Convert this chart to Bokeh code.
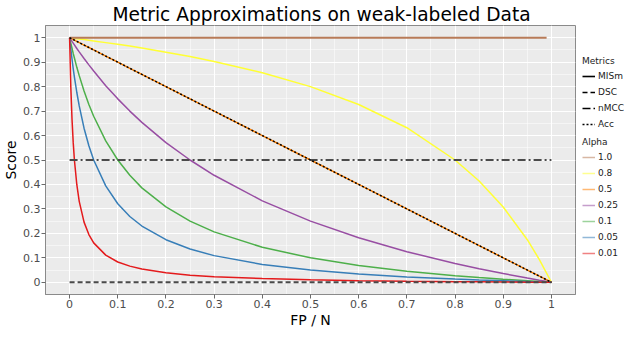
from bokeh.plotting import figure
from bokeh.layouts import row
from bokeh.models import Legend, LegendItem, FixedTicker, Range1d, Title
from bokeh.embed import file_html
from bokeh.resources import INLINE

# ---- data ----
fp_n = [0, 0.0025, 0.005, 0.0075, 0.01, 0.015, 0.02, 0.03, 0.04, 0.05, 0.075, 0.1, 0.125,
        0.15, 0.2, 0.25, 0.3, 0.4, 0.5, 0.6, 0.7, 0.8, 0.85, 0.9, 0.95, 0.975, 1.0]
score_a001 = [1, 0.80, 0.668, 0.572, 0.5, 0.399, 0.331, 0.246, 0.195, 0.161, 0.111, 0.083, 0.066,
              0.054, 0.039, 0.029, 0.023, 0.015, 0.010, 0.0067, 0.0043, 0.0025, 0.0018, 0.0011, 0.0005, 0.0003, 0]
score_a005 = [1, 0.955, 0.913, 0.874, 0.839, 0.776, 0.721, 0.630, 0.558, 0.5, 0.394, 0.321, 0.269,
              0.230, 0.174, 0.136, 0.109, 0.073, 0.05, 0.034, 0.022, 0.013, 0.0092, 0.0058, 0.0028, 0.0013, 0]
score_a01 = [1, 0.978, 0.957, 0.936, 0.917, 0.879, 0.845, 0.782, 0.727, 0.679, 0.578, 0.5, 0.4375,
             0.386, 0.308, 0.25, 0.206, 0.143, 0.1, 0.069, 0.045, 0.027, 0.0192, 0.0122, 0.0058, 0.0028, 0]
score_a025 = [1, 0.9925, 0.985, 0.978, 0.971, 0.956, 0.942, 0.915, 0.889, 0.864, 0.804, 0.75, 0.7,
              0.654, 0.571, 0.5, 0.4375, 0.333, 0.25, 0.182, 0.125, 0.077, 0.0556, 0.0357, 0.0172, 0.0085, 0]
score_a05 = [1, 0.9975, 0.995, 0.9925, 0.99, 0.985, 0.98, 0.97, 0.96, 0.95, 0.925, 0.9, 0.875,
             0.85, 0.8, 0.75, 0.7, 0.6, 0.5, 0.4, 0.3, 0.2, 0.15, 0.1, 0.05, 0.025, 0]
score_a08 = [1, 0.9994, 0.9987, 0.998, 0.9975, 0.996, 0.9949, 0.9923, 0.9897, 0.987, 0.980, 0.973, 0.966,
             0.958, 0.941, 0.923, 0.903, 0.857, 0.8, 0.727, 0.632, 0.5, 0.414, 0.308, 0.174, 0.093, 0]
fp_n_a1 = [0, 0.99]
score_a1 = [1, 1]

acc_x = [0, 1]
acc_y = [1, 0]
dsc_x = [0, 1]
dsc_y = [0, 0]
nmcc_x = [0, 1]
nmcc_y = [0.5, 0.5]

alpha_labels = ["1.0", "0.8", "0.5", "0.25", "0.1", "0.05", "0.01"]
alpha_colors = ["#B87B58", "#FFFF33", "#FF7F00", "#984EA3", "#4DAF4A", "#377EB8", "#E41A1C"]
metric_labels = ["MISm", "DSC", "nMCC", "Acc"]
metric_dashes = ["solid", "5 3", "8 3 2 3", "2 2"]

ticks = [0, 0.1, 0.2, 0.3, 0.4, 0.5, 0.6, 0.7, 0.8, 0.9, 1]
tick_labels = ["0", "0.1", "0.2", "0.3", "0.4", "0.5", "0.6", "0.7", "0.8", "0.9", "1"]
minor_ticks = [-0.05, 0.05, 0.15, 0.25, 0.35, 0.45, 0.55, 0.65, 0.75, 0.85, 0.95, 1.05]

FONT = "DejaVu Sans"
H = 334
W_MAIN = 578
W_LEG = 46

p = figure(width=W_MAIN, height=H, output_backend="svg", toolbar_location=None,
           x_range=Range1d(-0.05, 1.05), y_range=Range1d(-0.05, 1.05),
           min_border_left=45, min_border_right=3, min_border_top=25, min_border_bottom=40)
p.background_fill_color = "#EBEBEB"
p.border_fill_color = "white"
p.outline_line_color = "#8A8A8A"

p.title = Title(text="Metric Approximations on weak-labeled Data", align="left",
                text_font=FONT, text_font_size="18.6px", text_font_style="normal",
                text_color="black", standoff=2, offset=67)

for ax, lab in ((p.xaxis, "FP / N"), (p.yaxis, "Score")):
    ax.ticker = FixedTicker(ticks=ticks, minor_ticks=minor_ticks)
    ax.major_label_overrides = dict(zip(ticks, tick_labels))
    ax.axis_label = lab
    ax.axis_label_text_font = FONT
    ax.axis_label_text_font_size = "14px"
    ax.axis_label_text_font_style = "normal"
    ax.axis_label_text_color = "black"
    ax.axis_label_standoff = 1
    ax.major_label_text_font = FONT
    ax.major_label_text_font_size = "11px"
    ax.major_label_text_color = "#4D4D4D"
    ax.major_label_standoff = 1
    ax.axis_line_color = "#8A8A8A"
    ax.major_tick_line_color = "#6A6A6A"
    ax.major_tick_in = 0
    ax.major_tick_out = 4
    ax.minor_tick_line_color = None

p.grid.grid_line_color = "white"
p.grid.grid_line_width = 1
p.grid.minor_grid_line_color = "white"
p.grid.minor_grid_line_width = 0.5

series = [score_a08, score_a05, score_a025, score_a01, score_a005, score_a001]
series_colors = alpha_colors[1:]
for ys, c in zip(series, series_colors):
    p.line(fp_n, ys, line_color=c, line_width=1.5)
p.line(fp_n_a1, score_a1, line_color=alpha_colors[0], line_width=2.2)

dark = "#4A4A4A"
p.line(dsc_x, dsc_y, line_color=dark, line_width=1.8, line_dash=metric_dashes[1])
p.line(nmcc_x, nmcc_y, line_color=dark, line_width=1.8, line_dash=metric_dashes[2])
p.line(acc_x, acc_y, line_color="black", line_width=1.5, line_dash=metric_dashes[3])

# ---- legend panel (separate figure to the right) ----
lp = figure(width=W_LEG, height=H, output_backend="svg", toolbar_location=None,
            x_range=Range1d(0, 1), y_range=Range1d(0, 1),
            x_axis_location=None, y_axis_location=None,
            min_border_left=0, min_border_right=0, min_border_top=25, min_border_bottom=40)
lp.outline_line_color = None
lp.background_fill_color = "white"
lp.border_fill_color = "white"
lp.grid.visible = False

off_x = [5, 6]
off_y = [5, 5]
metric_items = []
for lab, d in zip(metric_labels, metric_dashes):
    r = lp.line(off_x, off_y, line_color="black", line_width=1.6, line_dash=d)
    metric_items.append(LegendItem(label=lab, renderers=[r]))
alpha_items = []
for lab, c in zip(alpha_labels, alpha_colors):
    r = lp.line(off_x, off_y, line_color=c, line_width=1.5, line_alpha=0.55)
    alpha_items.append(LegendItem(label=lab, renderers=[r]))

def make_legend(items, title, loc):
    lg = Legend(items=items, title=title, location=loc, orientation="vertical")
    lg.title_text_font = FONT
    lg.title_text_font_size = "9px"
    lg.title_text_font_style = "normal"
    lg.title_text_color = "#222222"
    lg.title_standoff = 2
    lg.label_text_font = FONT
    lg.label_text_font_size = "9px"
    lg.label_text_color = "#222222"
    lg.glyph_width = 13
    lg.glyph_height = 16
    lg.label_height = 16
    lg.label_standoff = 3
    lg.spacing = 0
    lg.padding = 0
    lg.margin = 0
    lg.background_fill_alpha = 0
    lg.border_line_alpha = 0
    return lg

lp.add_layout(make_legend(metric_items, "Metrics", (4, 162)), "center")
lp.add_layout(make_legend(alpha_items, "Alpha", (4, 33)), "center")

layout = row(p, lp, spacing=0)
open("out.html", "w").write(file_html(layout, INLINE))
